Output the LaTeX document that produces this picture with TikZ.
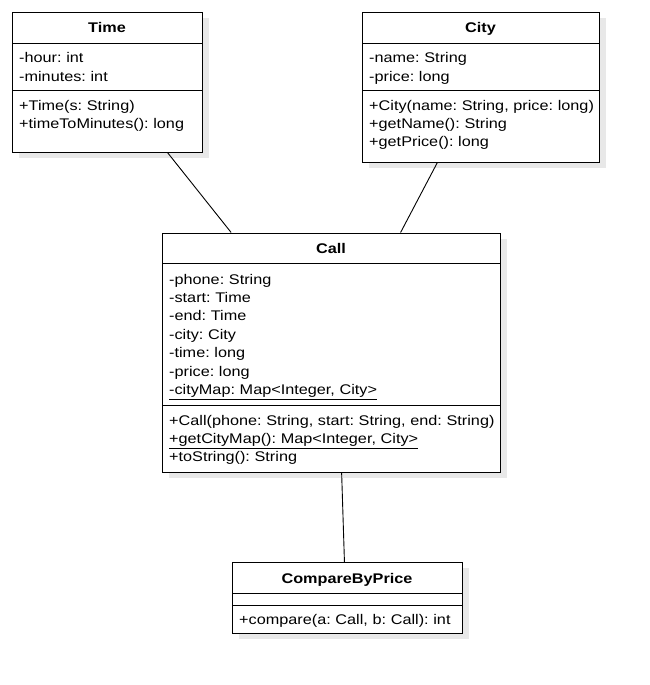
\documentclass[tikz,border=0pt]{standalone}
\usepackage{fontspec}
\setmainfont{Liberation Sans}[FakeStretch=1.16]
\usetikzlibrary{shadows,calc,positioning}
\tikzset{classbox/.style={draw, fill=white, line width=0.9pt, anchor=north west, inner sep=0pt,
 drop shadow={shadow xshift=7pt, shadow yshift=-6pt, fill=black!9, opacity=1}}}
\tikzset{classname/.style={anchor=base, inner sep=0pt, font=\fontsize{14}{16}\selectfont\bfseries}}
\tikzset{members/.style={anchor=base west, inner sep=0pt, align=left, text width=#1,
 font=\fontsize{14}{18.4}\selectfont\frenchspacing}}
\tikzset{divider/.style={draw, line width=0.9pt}}
\tikzset{line/.style={draw, line width=0.9pt}}

\begin{document}
\begin{tikzpicture}[x=1pt, y=-1pt]
        \useasboundingbox (0,0) rectangle (650,685);

        % Time
        \node[classbox, minimum width=190pt, minimum height=140pt] (time) at (12,12) {};
        \node[classname] (timename) at (107,33) {Time};
        \path[divider] ([yshift=-31pt]time.north west) -- ([yshift=-31pt]time.north east);
        \path[divider] ([yshift=-78.5pt]time.north west) -- ([yshift=-78.5pt]time.north east);
        \node[members=180pt] (timeattr) at (19,63) {-hour: int\\-minutes: int};
        \node[members=180pt] (timeops) at (19,110) {+Time(s: String)\\+timeToMinutes(): long};

        % City
        \node[classbox, minimum width=237pt, minimum height=150pt] (city) at (362,12) {};
        \node[classname] (cityname) at (480.5,33) {City};
        \path[divider] ([yshift=-31pt]city.north west) -- ([yshift=-31pt]city.north east);
        \path[divider] ([yshift=-78.5pt]city.north west) -- ([yshift=-78.5pt]city.north east);
        \node[members=228pt] (cityattr) at (369,63) {-name: String\\-price: long};
        \node[members=228pt] (cityops) at (369,110) {+City(name: String, price: long)\\+getName(): String\\+getPrice(): long};

        % Call
        \node[classbox, minimum width=338pt, minimum height=239pt] (call) at (162,232.5) {};
        \node[classname] (callname) at (331,253.5) {Call};
        \path[divider] ([yshift=-31pt]call.north west) -- ([yshift=-31pt]call.north east);
        \path[divider] ([yshift=-173pt]call.north west) -- ([yshift=-173pt]call.north east);
        \node[members=328pt] (callattr) at (169,284) {-phone: String\\-start: Time\\-end: Time\\-city: City\\-time: long\\-price: long\\\underline{-cityMap: Map<Integer, City>}};
        \node[members=328pt] (callops) at (169,425) {+Call(phone: String, start: String, end: String)\\\underline{+getCityMap(): Map<Integer, City>}\\+toString(): String};

        % CompareByPrice
        \node[classbox, minimum width=230pt, minimum height=71pt] (cmp) at (232,562) {};
        \node[classname] (cmpname) at (347,583) {CompareByPrice};
        \path[divider] ([yshift=-31pt]cmp.north west) -- ([yshift=-31pt]cmp.north east);
        \path[divider] ([yshift=-43.5pt]cmp.north west) -- ([yshift=-43.5pt]cmp.north east);
        \node[members=220pt] (cmpops) at (239,624) {+compare(a: Call, b: Call): int};

        \path[line] ($(time.south west)!0.816!(time.south east)$) -- ($(call.north west)!0.204!(call.north east)$);
        \path[line] ($(city.south west)!0.316!(city.south east)$) -- ($(call.north west)!0.704!(call.north east)$);
        \path[line] ($(call.south west)!0.53!(call.south east)$) -- ($(cmp.north west)!0.487!(cmp.north east)$);
\end{tikzpicture}
\end{document}
